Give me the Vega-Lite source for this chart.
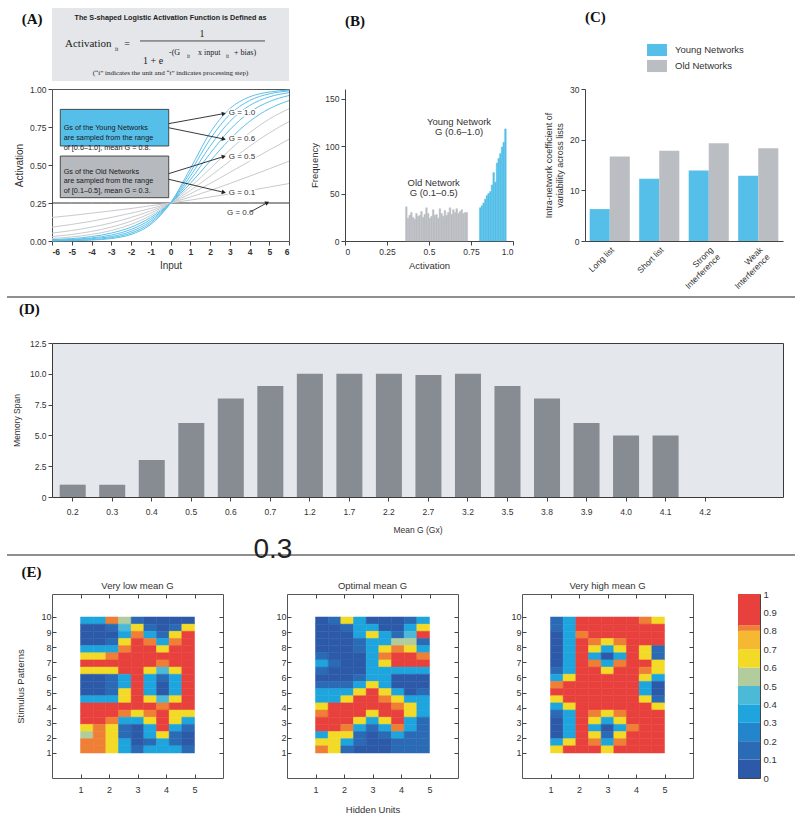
{
"$schema": "https://vega.github.io/schema/vega-lite/v6.json",
"background": "white",
"padding": {"left": 5, "top": 7, "right": 5, "bottom": 2},
"spacing": 0,
"config": {
  "font": "Liberation Sans",
  "view": {"stroke": null},
  "axis": {"labelFontSize": 8.5, "titleFontSize": 9.5, "titleFontWeight": "normal", "labelColor": "#333", "titleColor": "#333", "domainColor": "#444", "tickColor": "#444", "grid": false, "tickSize": 4, "labelPadding": 2, "labelOverlap": false},
  "title": {"font": "Liberation Serif", "fontSize": 15, "fontWeight": "bold", "color": "#111"},
  "legend": {"labelColor": "#333"}
},
"datasets": {
  "curves": [
    {"G":0,"x":[-6,-5,-4,-3,-2,-1,0,1,2,3,4,5,6],"a":[0.25,0.25,0.25,0.25,0.25,0.25,0.25,0.25,0.25,0.25,0.25,0.25,0.25]},
    {"G":0.1,"x":[-6,-5,-4,-3,-2,-1,0,1,2,3,4,5,6],"a":[0.155,0.168,0.183,0.198,0.214,0.232,0.25,0.269,0.289,0.31,0.332,0.355,0.378]},
    {"G":0.2,"x":[-6,-5,-4,-3,-2,-1,0,1,2,3,4,5,6],"a":[0.091,0.109,0.13,0.155,0.183,0.214,0.25,0.289,0.332,0.378,0.426,0.475,0.525]},
    {"G":0.3,"x":[-6,-5,-4,-3,-2,-1,0,1,2,3,4,5,6],"a":[0.052,0.069,0.091,0.119,0.155,0.198,0.25,0.31,0.378,0.451,0.525,0.599,0.669]},
    {"G":0.4,"x":[-6,-5,-4,-3,-2,-1,0,1,2,3,4,5,6],"a":[0.029,0.043,0.063,0.091,0.13,0.183,0.25,0.332,0.426,0.525,0.623,0.711,0.786]},
    {"G":0.5,"x":[-6,-5,-4,-3,-2,-1,0,1,2,3,4,5,6],"a":[0.016,0.027,0.043,0.069,0.109,0.168,0.25,0.355,0.475,0.599,0.711,0.802,0.87]},
    {"G":0.6,"x":[-6,-5,-4,-3,-2,-1,0,1,2,3,4,5,6],"a":[0.009,0.016,0.029,0.052,0.091,0.155,0.25,0.378,0.525,0.669,0.786,0.87,0.924]},
    {"G":0.7,"x":[-6,-5,-4,-3,-2,-1,0,1,2,3,4,5,6],"a":[0.005,0.01,0.02,0.039,0.076,0.142,0.25,0.402,0.575,0.731,0.846,0.917,0.957]},
    {"G":0.8,"x":[-6,-5,-4,-3,-2,-1,0,1,2,3,4,5,6],"a":[0.003,0.007,0.016,0.029,0.063,0.13,0.25,0.426,0.623,0.786,0.891,0.948,0.976]},
    {"G":0.9,"x":[-6,-5,-4,-3,-2,-1,0,1,2,3,4,5,6],"a":[0.002,0.004,0.009,0.022,0.052,0.119,0.25,0.451,0.669,0.832,0.924,0.968,0.987]},
    {"G":1.0,"x":[-6,-5,-4,-3,-2,-1,0,1,2,3,4,5,6],"a":[0.001,0.002,0.006,0.016,0.043,0.109,0.25,0.475,0.711,0.87,0.948,0.98,0.993]}
  ],
  "hist": [
    {"b0":0.36,"b1":0.37,"n":36},{"b0":0.37,"b1":0.38,"n":24},{"b0":0.38,"b1":0.39,"n":27},{"b0":0.39,"b1":0.40,"n":30},
    {"b0":0.40,"b1":0.41,"n":25},{"b0":0.41,"b1":0.42,"n":23},{"b0":0.42,"b1":0.43,"n":29},{"b0":0.43,"b1":0.44,"n":26},
    {"b0":0.44,"b1":0.45,"n":27},{"b0":0.45,"b1":0.46,"n":31},{"b0":0.46,"b1":0.47,"n":25},{"b0":0.47,"b1":0.48,"n":28},
    {"b0":0.48,"b1":0.49,"n":35},{"b0":0.49,"b1":0.50,"n":29},{"b0":0.50,"b1":0.51,"n":24},{"b0":0.51,"b1":0.52,"n":26},
    {"b0":0.52,"b1":0.53,"n":33},{"b0":0.53,"b1":0.54,"n":27},{"b0":0.54,"b1":0.55,"n":28},{"b0":0.55,"b1":0.56,"n":24},
    {"b0":0.56,"b1":0.57,"n":34},{"b0":0.57,"b1":0.58,"n":29},{"b0":0.58,"b1":0.59,"n":26},{"b0":0.59,"b1":0.60,"n":32},
    {"b0":0.60,"b1":0.61,"n":27},{"b0":0.61,"b1":0.62,"n":30},{"b0":0.62,"b1":0.63,"n":35},{"b0":0.63,"b1":0.64,"n":28},
    {"b0":0.64,"b1":0.65,"n":33},{"b0":0.65,"b1":0.66,"n":30},{"b0":0.66,"b1":0.67,"n":34},{"b0":0.67,"b1":0.68,"n":29},
    {"b0":0.68,"b1":0.69,"n":31},{"b0":0.69,"b1":0.70,"n":33},{"b0":0.70,"b1":0.71,"n":29},{"b0":0.71,"b1":0.72,"n":30},
    {"b0":0.72,"b1":0.73,"n":30},
    {"b0":0.80,"b1":0.81,"n":35},{"b0":0.81,"b1":0.82,"n":37},{"b0":0.82,"b1":0.83,"n":40},{"b0":0.83,"b1":0.84,"n":44},
    {"b0":0.84,"b1":0.85,"n":48},{"b0":0.85,"b1":0.86,"n":50},{"b0":0.86,"b1":0.87,"n":52},{"b0":0.87,"b1":0.88,"n":59},
    {"b0":0.88,"b1":0.89,"n":72},{"b0":0.89,"b1":0.90,"n":62},{"b0":0.90,"b1":0.91,"n":82},{"b0":0.91,"b1":0.92,"n":87},
    {"b0":0.92,"b1":0.93,"n":92},{"b0":0.93,"b1":0.94,"n":99},{"b0":0.94,"b1":0.95,"n":104},{"b0":0.95,"b1":0.96,"n":118}
  ],
  "cv": [
    {"cond":"Long list","net":"Young Networks","cv":6.3},{"cond":"Long list","net":"Old Networks","cv":16.7},
    {"cond":"Short list","net":"Young Networks","cv":12.3},{"cond":"Short list","net":"Old Networks","cv":17.8},
    {"cond":"Strong Interference","net":"Young Networks","cv":13.9},{"cond":"Strong Interference","net":"Old Networks","cv":19.3},
    {"cond":"Weak Interference","net":"Young Networks","cv":12.9},{"cond":"Weak Interference","net":"Old Networks","cv":18.3}
  ],
  "span": [
    {"g":"0.2","m":1},{"g":"0.3","m":1},{"g":"0.4","m":3},{"g":"0.5","m":6},{"g":"0.6","m":8},{"g":"0.7","m":9},
    {"g":"1.2","m":10},{"g":"1.7","m":10},{"g":"2.2","m":10},{"g":"2.7","m":9.9},{"g":"3.2","m":10},{"g":"3.5","m":9},
    {"g":"3.8","m":8},{"g":"3.9","m":6},{"g":"4.0","m":5},{"g":"4.1","m":5},{"g":"4.2","m":0}
  ],
  "grid": [
    {"g":"low","p":10,"u1":0.35,"u1h":0.35,"u2":0.815,"u2h":0.55,"u3":0.15,"u3h":0.05,"u4":0.05,"u4h":0.05,"u5":0.05},
    {"g":"low","p":9.5,"u1":0.05,"u1h":0.05,"u2":0.15,"u2h":0.45,"u3":0.65,"u3h":0.15,"u4":0.05,"u4h":0.15,"u5":0.65},
    {"g":"low","p":9,"u1":0.05,"u1h":0.05,"u2":0.05,"u2h":0.35,"u3":0.815,"u3h":0.35,"u4":0.15,"u4h":0.65,"u5":0.95},
    {"g":"low","p":8.5,"u1":0.05,"u1h":0.05,"u2":0.15,"u2h":0.65,"u3":0.95,"u3h":0.815,"u4":0.35,"u4h":0.815,"u5":0.95},
    {"g":"low","p":8,"u1":0.35,"u1h":0.35,"u2":0.35,"u2h":0.815,"u3":0.95,"u3h":0.95,"u4":0.65,"u4h":0.95,"u5":0.95},
    {"g":"low","p":7.5,"u1":0.65,"u1h":0.65,"u2":0.815,"u2h":0.95,"u3":0.95,"u3h":0.95,"u4":0.95,"u4h":0.95,"u5":0.95},
    {"g":"low","p":7,"u1":0.95,"u1h":0.95,"u2":0.95,"u2h":0.95,"u3":0.95,"u3h":0.95,"u4":0.815,"u4h":0.95,"u5":0.95},
    {"g":"low","p":6.5,"u1":0.65,"u1h":0.65,"u2":0.65,"u2h":0.95,"u3":0.95,"u3h":0.65,"u4":0.45,"u4h":0.65,"u5":0.95},
    {"g":"low","p":6,"u1":0.05,"u1h":0.05,"u2":0.15,"u2h":0.35,"u3":0.95,"u3h":0.35,"u4":0.15,"u4h":0.35,"u5":0.95},
    {"g":"low","p":5.5,"u1":0.05,"u1h":0.05,"u2":0.15,"u2h":0.35,"u3":0.95,"u3h":0.35,"u4":0.05,"u4h":0.35,"u5":0.95},
    {"g":"low","p":5,"u1":0.05,"u1h":0.05,"u2":0.15,"u2h":0.65,"u3":0.95,"u3h":0.35,"u4":0.05,"u4h":0.35,"u5":0.95},
    {"g":"low","p":4.5,"u1":0.35,"u1h":0.35,"u2":0.35,"u2h":0.65,"u3":0.95,"u3h":0.65,"u4":0.45,"u4h":0.65,"u5":0.95},
    {"g":"low","p":4,"u1":0.95,"u1h":0.95,"u2":0.95,"u2h":0.95,"u3":0.95,"u3h":0.95,"u4":0.815,"u4h":0.95,"u5":0.95},
    {"g":"low","p":3.5,"u1":0.95,"u1h":0.95,"u2":0.95,"u2h":0.815,"u3":0.65,"u3h":0.815,"u4":0.95,"u4h":0.65,"u5":0.65},
    {"g":"low","p":3,"u1":0.95,"u1h":0.95,"u2":0.815,"u2h":0.35,"u3":0.35,"u3h":0.65,"u4":0.95,"u4h":0.65,"u5":0.35},
    {"g":"low","p":2.5,"u1":0.65,"u1h":0.815,"u2":0.65,"u2h":0.15,"u3":0.05,"u3h":0.35,"u4":0.95,"u4h":0.35,"u5":0.15},
    {"g":"low","p":2,"u1":0.55,"u1h":0.815,"u2":0.65,"u2h":0.15,"u3":0.05,"u3h":0.35,"u4":0.65,"u4h":0.15,"u5":0.05},
    {"g":"low","p":1.5,"u1":0.815,"u1h":0.815,"u2":0.65,"u2h":0.35,"u3":0.05,"u3h":0.15,"u4":0.35,"u4h":0.15,"u5":0.05},
    {"g":"low","p":1,"u1":0.815,"u1h":0.815,"u2":0.65,"u2h":0.35,"u3":0.15,"u3h":0.35,"u4":0.35,"u4h":0.35,"u5":0.15},
    {"g":"opt","p":10,"u1":0.05,"u1h":0.15,"u2":0.65,"u2h":0.35,"u3":0.05,"u3h":0.05,"u4":0.05,"u4h":0.15,"u5":0.35},
    {"g":"opt","p":9.5,"u1":0.05,"u1h":0.05,"u2":0.15,"u2h":0.35,"u3":0.35,"u3h":0.05,"u4":0.05,"u4h":0.35,"u5":0.65},
    {"g":"opt","p":9,"u1":0.05,"u1h":0.05,"u2":0.05,"u2h":0.35,"u3":0.65,"u3h":0.35,"u4":0.15,"u4h":0.45,"u5":0.95},
    {"g":"opt","p":8.5,"u1":0.05,"u1h":0.05,"u2":0.05,"u2h":0.15,"u3":0.35,"u3h":0.35,"u4":0.55,"u4h":0.55,"u5":0.15},
    {"g":"opt","p":8,"u1":0.05,"u1h":0.05,"u2":0.05,"u2h":0.15,"u3":0.35,"u3h":0.65,"u4":0.815,"u4h":0.65,"u5":0.35},
    {"g":"opt","p":7.5,"u1":0.15,"u1h":0.05,"u2":0.05,"u2h":0.05,"u3":0.35,"u3h":0.815,"u4":0.95,"u4h":0.95,"u5":0.815},
    {"g":"opt","p":7,"u1":0.35,"u1h":0.15,"u2":0.05,"u2h":0.05,"u3":0.35,"u3h":0.65,"u4":0.95,"u4h":0.95,"u5":0.95},
    {"g":"opt","p":6.5,"u1":0.15,"u1h":0.05,"u2":0.05,"u2h":0.05,"u3":0.35,"u3h":0.35,"u4":0.35,"u4h":0.35,"u5":0.35},
    {"g":"opt","p":6,"u1":0.05,"u1h":0.05,"u2":0.05,"u2h":0.15,"u3":0.35,"u3h":0.35,"u4":0.05,"u4h":0.05,"u5":0.05},
    {"g":"opt","p":5.5,"u1":0.15,"u1h":0.15,"u2":0.15,"u2h":0.35,"u3":0.65,"u3h":0.35,"u4":0.05,"u4h":0.05,"u5":0.05},
    {"g":"opt","p":5,"u1":0.35,"u1h":0.35,"u2":0.35,"u2h":0.65,"u3":0.95,"u3h":0.65,"u4":0.35,"u4h":0.05,"u5":0.15},
    {"g":"opt","p":4.5,"u1":0.35,"u1h":0.35,"u2":0.65,"u2h":0.95,"u3":0.95,"u3h":0.815,"u4":0.65,"u4h":0.35,"u5":0.35},
    {"g":"opt","p":4,"u1":0.65,"u1h":0.95,"u2":0.95,"u2h":0.95,"u3":0.95,"u3h":0.95,"u4":0.815,"u4h":0.65,"u5":0.35},
    {"g":"opt","p":3.5,"u1":0.815,"u1h":0.95,"u2":0.95,"u2h":0.95,"u3":0.65,"u3h":0.95,"u4":0.95,"u4h":0.65,"u5":0.35},
    {"g":"opt","p":3,"u1":0.95,"u1h":0.95,"u2":0.95,"u2h":0.65,"u3":0.35,"u3h":0.65,"u4":0.95,"u4h":0.35,"u5":0.15},
    {"g":"opt","p":2.5,"u1":0.95,"u1h":0.95,"u2":0.815,"u2h":0.35,"u3":0.15,"u3h":0.35,"u4":0.815,"u4h":0.35,"u5":0.15},
    {"g":"opt","p":2,"u1":0.35,"u1h":0.65,"u2":0.65,"u2h":0.15,"u3":0.05,"u3h":0.15,"u4":0.35,"u4h":0.15,"u5":0.15},
    {"g":"opt","p":1.5,"u1":0.65,"u1h":0.65,"u2":0.35,"u2h":0.15,"u3":0.05,"u3h":0.05,"u4":0.15,"u4h":0.15,"u5":0.15},
    {"g":"opt","p":1,"u1":0.815,"u1h":0.65,"u2":0.15,"u2h":0.05,"u3":0.05,"u3h":0.05,"u4":0.15,"u4h":0.15,"u5":0.15},
    {"g":"high","p":10,"u1":0.15,"u1h":0.35,"u2":0.95,"u2h":0.95,"u3":0.95,"u3h":0.95,"u4":0.95,"u4h":0.815,"u5":0.65},
    {"g":"high","p":9.5,"u1":0.15,"u1h":0.35,"u2":0.95,"u2h":0.95,"u3":0.95,"u3h":0.95,"u4":0.95,"u4h":0.95,"u5":0.95},
    {"g":"high","p":9,"u1":0.05,"u1h":0.35,"u2":0.815,"u2h":0.95,"u3":0.95,"u3h":0.95,"u4":0.95,"u4h":0.95,"u5":0.95},
    {"g":"high","p":8.5,"u1":0.05,"u1h":0.35,"u2":0.95,"u2h":0.815,"u3":0.65,"u3h":0.815,"u4":0.95,"u4h":0.95,"u5":0.95},
    {"g":"high","p":8,"u1":0.05,"u1h":0.35,"u2":0.95,"u2h":0.65,"u3":0.35,"u3h":0.65,"u4":0.95,"u4h":0.65,"u5":0.15},
    {"g":"high","p":7.5,"u1":0.05,"u1h":0.35,"u2":0.95,"u2h":0.35,"u3":0.05,"u3h":0.35,"u4":0.95,"u4h":0.65,"u5":0.15},
    {"g":"high","p":7,"u1":0.05,"u1h":0.35,"u2":0.95,"u2h":0.815,"u3":0.35,"u3h":0.815,"u4":0.95,"u4h":0.95,"u5":0.65},
    {"g":"high","p":6.5,"u1":0.15,"u1h":0.35,"u2":0.95,"u2h":0.95,"u3":0.65,"u3h":0.95,"u4":0.95,"u4h":0.815,"u5":0.65},
    {"g":"high","p":6,"u1":0.35,"u1h":0.65,"u2":0.95,"u2h":0.95,"u3":0.95,"u3h":0.95,"u4":0.95,"u4h":0.65,"u5":0.35},
    {"g":"high","p":5.5,"u1":0.815,"u1h":0.95,"u2":0.95,"u2h":0.95,"u3":0.95,"u3h":0.95,"u4":0.95,"u4h":0.35,"u5":0.05},
    {"g":"high","p":5,"u1":0.95,"u1h":0.95,"u2":0.95,"u2h":0.95,"u3":0.95,"u3h":0.95,"u4":0.95,"u4h":0.35,"u5":0.05},
    {"g":"high","p":4.5,"u1":0.65,"u1h":0.95,"u2":0.95,"u2h":0.95,"u3":0.95,"u3h":0.95,"u4":0.95,"u4h":0.65,"u5":0.15},
    {"g":"high","p":4,"u1":0.35,"u1h":0.65,"u2":0.95,"u2h":0.95,"u3":0.95,"u3h":0.95,"u4":0.95,"u4h":0.95,"u5":0.65},
    {"g":"high","p":3.5,"u1":0.15,"u1h":0.35,"u2":0.95,"u2h":0.815,"u3":0.65,"u3h":0.815,"u4":0.95,"u4h":0.95,"u5":0.95},
    {"g":"high","p":3,"u1":0.05,"u1h":0.35,"u2":0.95,"u2h":0.65,"u3":0.35,"u3h":0.65,"u4":0.95,"u4h":0.95,"u5":0.95},
    {"g":"high","p":2.5,"u1":0.05,"u1h":0.35,"u2":0.95,"u2h":0.35,"u3":0.05,"u3h":0.35,"u4":0.815,"u4h":0.95,"u5":0.95},
    {"g":"high","p":2,"u1":0.05,"u1h":0.35,"u2":0.95,"u2h":0.65,"u3":0.15,"u3h":0.65,"u4":0.95,"u4h":0.95,"u5":0.95},
    {"g":"high","p":1.5,"u1":0.35,"u1h":0.65,"u2":0.95,"u2h":0.815,"u3":0.35,"u3h":0.815,"u4":0.95,"u4h":0.95,"u5":0.95},
    {"g":"high","p":1,"u1":0.65,"u1h":0.95,"u2":0.95,"u2h":0.95,"u3":0.65,"u3h":0.95,"u4":0.95,"u4h":0.95,"u5":0.95}
  ],
  "cbar": [
    {"lo":0,"hi":0.1,"mid":0.05},{"lo":0.1,"hi":0.2,"mid":0.15},{"lo":0.2,"hi":0.3,"mid":0.25},{"lo":0.3,"hi":0.4,"mid":0.35},
    {"lo":0.4,"hi":0.5,"mid":0.45},{"lo":0.5,"hi":0.6,"mid":0.55},{"lo":0.6,"hi":0.7,"mid":0.65},{"lo":0.7,"hi":0.8,"mid":0.75},
    {"lo":0.8,"hi":0.83,"mid":0.815},{"lo":0.83,"hi":1,"mid":0.915}
  ]
},
"vconcat": [
  {
    "hconcat": [
      {
        "width": 237, "height": 152,
        "view": {"stroke": "#555"},
        "data": {"values": [{}]},
        "resolve": {"axis": {"x": "independent", "y": "independent"}},
        "layer": [
          {"data": {"name": "curves"}, "transform": [{"flatten": ["x", "a"]}],
           "mark": {"type": "line", "strokeWidth": 1, "interpolate": "monotone"},
           "encoding": {
             "x": {"field": "x", "type": "quantitative", "scale": {"domain": [-6, 6]}, "axis": {"orient": "bottom", "values": [-6,-5,-4,-3,-2,-1,0,1,2,3,4,5,6], "labelExpr": "replace(toString(datum.value), '−', '-')", "labelOverlap": false, "labelFontWeight": "bold", "title": "Input", "titleFontSize": 10, "titlePadding": 5, "domain": false}},
             "y": {"field": "a", "type": "quantitative", "scale": {"domain": [0, 1]}, "axis": {"orient": "left", "values": [0, 0.25, 0.5, 0.75, 1], "labelExpr": "format(datum.value, '.2f')", "labelOverlap": false, "title": "Activation", "titleFontSize": 10, "titlePadding": 5, "domain": false}},
             "detail": {"field": "G", "type": "nominal"},
             "color": {"condition": [{"test": "datum.G == 0", "value": "#333333"}, {"test": "datum.G >= 0.6", "value": "#5bc0ea"}], "value": "#c8cacd"}
           }},
          {"mark": {"type": "rect", "fill": "#e4e6e9"}, "encoding": {"x": {"datum": -6, "axis": null}, "x2": {"datum": 6}, "y": {"datum": 1.533, "axis": null}, "y2": {"datum": 1.053}}},
          {"mark": {"type": "text", "text": "(A)", "font": "Liberation Serif", "fontSize": 15, "fontWeight": "bold", "color": "#111"}, "encoding": {"x": {"datum": -7.01, "axis": null}, "y": {"datum": 1.461, "axis": null}}},
          {"mark": {"type": "text", "text": "The S-shaped Logistic Activation Function is Defined as", "fontSize": 7.2, "fontWeight": "bold", "color": "#222"}, "encoding": {"x": {"datum": 0, "axis": null}, "y": {"datum": 1.467, "axis": null}}},
          {"mark": {"type": "text", "text": "Activation", "font": "Liberation Serif", "fontSize": 11, "align": "left", "color": "#222"}, "encoding": {"x": {"datum": -5.34, "axis": null}, "y": {"datum": 1.296, "axis": null}}},
          {"mark": {"type": "text", "text": "it", "font": "Liberation Serif", "fontSize": 6, "align": "left", "color": "#222"}, "encoding": {"x": {"datum": -2.81, "axis": null}, "y": {"datum": 1.263, "axis": null}}},
          {"mark": {"type": "text", "text": "=", "font": "Liberation Serif", "fontSize": 10, "color": "#222"}, "encoding": {"x": {"datum": -2.2, "axis": null}, "y": {"datum": 1.296, "axis": null}}},
          {"mark": {"type": "text", "text": "1", "font": "Liberation Serif", "fontSize": 10, "color": "#222"}, "encoding": {"x": {"datum": 1.59, "axis": null}, "y": {"datum": 1.362, "axis": null}}},
          {"mark": {"type": "rule", "color": "#222", "strokeWidth": 0.8}, "encoding": {"x": {"datum": -1.544, "axis": null}, "x2": {"datum": 4.785}, "y": {"datum": 1.316, "axis": null}}},
          {"mark": {"type": "text", "text": "1 + e", "font": "Liberation Serif", "fontSize": 10, "align": "left", "color": "#222"}, "encoding": {"x": {"datum": -1.392, "axis": null}, "y": {"datum": 1.182, "axis": null}}},
          {"mark": {"type": "text", "text": "-(G", "font": "Liberation Serif", "fontSize": 8, "align": "left", "color": "#222"}, "encoding": {"x": {"datum": -0.076, "axis": null}, "y": {"datum": 1.237, "axis": null}}},
          {"mark": {"type": "text", "text": "it", "font": "Liberation Serif", "fontSize": 5.5, "align": "left", "color": "#222"}, "encoding": {"x": {"datum": 0.835, "axis": null}, "y": {"datum": 1.215, "axis": null}}},
          {"mark": {"type": "text", "text": "x input", "font": "Liberation Serif", "fontSize": 8, "align": "left", "color": "#222"}, "encoding": {"x": {"datum": 1.39, "axis": null}, "y": {"datum": 1.237, "axis": null}}},
          {"mark": {"type": "text", "text": "it", "font": "Liberation Serif", "fontSize": 5.5, "align": "left", "color": "#222"}, "encoding": {"x": {"datum": 2.81, "axis": null}, "y": {"datum": 1.215, "axis": null}}},
          {"mark": {"type": "text", "text": "+ bias)", "font": "Liberation Serif", "fontSize": 8, "align": "left", "color": "#222"}, "encoding": {"x": {"datum": 3.215, "axis": null}, "y": {"datum": 1.237, "axis": null}}},
          {"mark": {"type": "text", "text": "(“i” indicates the unit and “t” indicates processing step)", "font": "Liberation Serif", "fontSize": 7, "color": "#222"}, "encoding": {"x": {"datum": 0, "axis": null}, "y": {"datum": 1.108, "axis": null}}},
          {"mark": {"type": "rect", "fill": "#55bfe9", "stroke": "#2a2a2a", "strokeWidth": 0.8}, "encoding": {"x": {"datum": -5.58, "axis": null}, "x2": {"datum": -0.09}, "y": {"datum": 0.866, "axis": null}, "y2": {"datum": 0.625}}},
          {"mark": {"type": "rect", "fill": "#b6b9be", "stroke": "#2a2a2a", "strokeWidth": 0.8}, "encoding": {"x": {"datum": -5.58, "axis": null}, "x2": {"datum": -0.09}, "y": {"datum": 0.559, "axis": null}, "y2": {"datum": 0.285}}},
          {"mark": {"type": "text", "text": ["Gs of the Young Networks", "are sampled from the range", "of [0.6–1.0], mean G = 0.8."], "fontSize": 7.3, "lineHeight": 10, "align": "left", "color": "#1a1a1a"}, "encoding": {"x": {"datum": -5.41, "axis": null}, "y": {"datum": 0.745, "axis": null}}},
          {"mark": {"type": "text", "text": ["Gs of the Old Networks", "are sampled from the range", "of [0.1–0.5], mean G = 0.3."], "fontSize": 7.3, "lineHeight": 9.5, "align": "left", "color": "#1a1a1a"}, "encoding": {"x": {"datum": -5.41, "axis": null}, "y": {"datum": 0.456, "axis": null}}},
          {"mark": {"type": "rule", "color": "#222", "strokeWidth": 0.9}, "encoding": {"x": {"datum": -0.09, "axis": null}, "y": {"datum": 0.772, "axis": null}, "x2": {"datum": 2.7}, "y2": {"datum": 0.838}}},
          {"mark": {"type": "rule", "color": "#222", "strokeWidth": 0.9}, "encoding": {"x": {"datum": -0.09, "axis": null}, "y": {"datum": 0.745, "axis": null}, "x2": {"datum": 2.7}, "y2": {"datum": 0.671}}},
          {"mark": {"type": "rule", "color": "#222", "strokeWidth": 0.9}, "encoding": {"x": {"datum": -0.09, "axis": null}, "y": {"datum": 0.443, "axis": null}, "x2": {"datum": 2.7}, "y2": {"datum": 0.556}}},
          {"mark": {"type": "rule", "color": "#222", "strokeWidth": 0.9}, "encoding": {"x": {"datum": -0.09, "axis": null}, "y": {"datum": 0.406, "axis": null}, "x2": {"datum": 2.7}, "y2": {"datum": 0.32}}},
          {"mark": {"type": "rule", "color": "#222", "strokeWidth": 0.9}, "encoding": {"x": {"datum": 4.04, "axis": null}, "y": {"datum": 0.191, "axis": null}, "x2": {"datum": 4.9}, "y2": {"datum": 0.252}}},
          {"mark": {"type": "point", "shape": "triangle-right", "filled": true, "color": "#222", "opacity": 1, "size": 22, "angle": -10.4}, "encoding": {"x": {"datum": 2.7, "axis": null}, "y": {"datum": 0.838, "axis": null}}},
          {"mark": {"type": "point", "shape": "triangle-right", "filled": true, "color": "#222", "opacity": 1, "size": 22, "angle": 11.6}, "encoding": {"x": {"datum": 2.7, "axis": null}, "y": {"datum": 0.671, "axis": null}}},
          {"mark": {"type": "point", "shape": "triangle-right", "filled": true, "color": "#222", "opacity": 1, "size": 22, "angle": -17.4}, "encoding": {"x": {"datum": 2.7, "axis": null}, "y": {"datum": 0.556, "axis": null}}},
          {"mark": {"type": "point", "shape": "triangle-right", "filled": true, "color": "#222", "opacity": 1, "size": 22, "angle": 13.3}, "encoding": {"x": {"datum": 2.7, "axis": null}, "y": {"datum": 0.32, "axis": null}}},
          {"mark": {"type": "point", "shape": "triangle-right", "filled": true, "color": "#222", "opacity": 1, "size": 22, "angle": -28.5}, "encoding": {"x": {"datum": 4.9, "axis": null}, "y": {"datum": 0.252, "axis": null}}},
          {"mark": {"type": "text", "text": "G = 1.0", "fontSize": 8, "align": "left", "fill": "white", "stroke": "white", "strokeWidth": 3}, "encoding": {"x": {"datum": 2.95, "axis": null}, "y": {"datum": 0.844, "axis": null}}},
          {"mark": {"type": "text", "text": "G = 1.0", "fontSize": 8, "align": "left", "color": "#333"}, "encoding": {"x": {"datum": 2.95, "axis": null}, "y": {"datum": 0.844, "axis": null}}},
          {"mark": {"type": "text", "text": "G = 0.6", "fontSize": 8, "align": "left", "fill": "white", "stroke": "white", "strokeWidth": 3}, "encoding": {"x": {"datum": 2.95, "axis": null}, "y": {"datum": 0.669, "axis": null}}},
          {"mark": {"type": "text", "text": "G = 0.6", "fontSize": 8, "align": "left", "color": "#333"}, "encoding": {"x": {"datum": 2.95, "axis": null}, "y": {"datum": 0.669, "axis": null}}},
          {"mark": {"type": "text", "text": "G = 0.5", "fontSize": 8, "align": "left", "fill": "white", "stroke": "white", "strokeWidth": 3}, "encoding": {"x": {"datum": 2.95, "axis": null}, "y": {"datum": 0.555, "axis": null}}},
          {"mark": {"type": "text", "text": "G = 0.5", "fontSize": 8, "align": "left", "color": "#333"}, "encoding": {"x": {"datum": 2.95, "axis": null}, "y": {"datum": 0.555, "axis": null}}},
          {"mark": {"type": "text", "text": "G = 0.1", "fontSize": 8, "align": "left", "fill": "white", "stroke": "white", "strokeWidth": 3}, "encoding": {"x": {"datum": 2.95, "axis": null}, "y": {"datum": 0.318, "axis": null}}},
          {"mark": {"type": "text", "text": "G = 0.1", "fontSize": 8, "align": "left", "color": "#333"}, "encoding": {"x": {"datum": 2.95, "axis": null}, "y": {"datum": 0.318, "axis": null}}},
          {"mark": {"type": "text", "text": "G = 0.0", "fontSize": 8, "align": "left", "color": "#333"}, "encoding": {"x": {"datum": 2.86, "axis": null}, "y": {"datum": 0.186, "axis": null}}}
        ]
      },
      {"width": 1, "height": 1, "data": {"values": []}, "mark": "point"},
      {
        "width": 168, "height": 152,
        "title": {"text": "(B)", "anchor": "start", "frame": "group", "offset": 60},
        "data": {"values": [{}]},
        "layer": [
          {"data": {"name": "hist"}, "mark": {"type": "rect", "strokeWidth": 0.4},
           "encoding": {
             "x": {"field": "b0", "type": "quantitative", "scale": {"domain": [0, 1]}, "axis": {"values": [0, 0.25, 0.5, 0.75, 1], "labelExpr": "datum.value == 0 ? '0' : datum.value == 0.5 ? '0.5' : datum.value == 1 ? '1.0' : format(datum.value, '.2f')", "title": "Activation", "titlePadding": 5}},
             "x2": {"field": "b1"},
             "y": {"field": "n", "type": "quantitative", "scale": {"domain": [0, 150]}, "axis": {"values": [0, 50, 100, 150], "title": "Frequency", "titlePadding": 5}},
             "color": {"condition": {"test": "datum.b0 >= 0.78", "value": "#55bfe9"}, "value": "#babdc2"},
             "stroke": {"condition": {"test": "datum.b0 >= 0.78", "value": "#55bfe9"}, "value": "#babdc2"}
           }},
          {"mark": {"type": "text", "text": ["Young Network", "G (0.6–1.0)"], "fontSize": 9.5, "lineHeight": 10, "color": "#333"}, "encoding": {"x": {"datum": 0.679}, "y": {"datum": 125}}},
          {"mark": {"type": "text", "text": ["Old Network", "G (0.1–0.5)"], "fontSize": 9.5, "lineHeight": 10, "color": "#333"}, "encoding": {"x": {"datum": 0.528}, "y": {"datum": 61}}}
        ]
      },
      {"width": 17, "height": 1, "data": {"values": []}, "mark": "point"},
      {
        "width": 198, "height": 152,
        "title": {"text": "(C)", "anchor": "start", "frame": "group", "offset": 60},
        "data": {"name": "cv"},
        "mark": {"type": "bar"},
        "encoding": {
          "x": {"field": "cond", "type": "nominal", "sort": ["Long list", "Short list", "Strong Interference", "Weak Interference"], "scale": {"paddingInner": 0.19, "paddingOuter": 0.095},
                "axis": {"title": null, "labelAngle": -45, "labelAlign": "right", "ticks": false, "labelPadding": 4, "labelLineHeight": 10, "labelExpr": "datum.label == 'Strong Interference' ? ['Strong', 'Interference'] : datum.label == 'Weak Interference' ? ['Weak', 'Interference'] : datum.label"}},
          "xOffset": {"field": "net", "type": "nominal", "sort": ["Young Networks", "Old Networks"]},
          "y": {"field": "cv", "type": "quantitative", "scale": {"domain": [0, 30]}, "axis": {"values": [0, 10, 20, 30], "title": ["Intra-network coefficient of", "variability across lists"], "titleFontSize": 9, "titlePadding": 5}},
          "color": {"field": "net", "type": "nominal", "scale": {"domain": ["Young Networks", "Old Networks"], "range": ["#55bfe9", "#babdc2"]},
                    "legend": {"orient": "none", "legendX": 596, "legendY": -48, "title": null, "symbolType": "M-1.15,-0.7H1.15V0.7H-1.15Z", "symbolSize": 300, "symbolStrokeWidth": 0, "labelFontSize": 9.5, "labelOffset": 9, "rowPadding": 0}}
        }
      }
    ],
    "spacing": 27.5,
    "bounds": "flush"
  },
  {
    "width": 743, "height": 10,
    "data": {"values": [{}]},
    "mark": {"type": "rule", "color": "#8f8f8f", "strokeWidth": 2},
    "encoding": {
      "x": {"datum": -0.0606, "type": "quantitative", "scale": {"domain": [0, 1]}, "axis": null},
      "x2": {"datum": 1},
      "y": {"datum": 4, "type": "quantitative", "scale": {"domain": [0, 10]}, "axis": null}
    }
  },
  {
    "width": 731, "height": 154,
    "title": {"text": "(D)", "anchor": "start", "frame": "group", "dx": -33, "offset": 22},
    "view": {"fill": "#e4e7eb", "stroke": "#3a3a3a"},
    "data": {"name": "span"},
    "mark": {"type": "bar", "color": "#878c92"},
    "encoding": {
      "x": {"field": "g", "type": "ordinal", "scale": {"domain": ["0.2","0.3","0.4","0.5","0.6","0.7","1.2","1.7","2.2","2.7","3.2","3.5","3.8","3.9","4.0","4.1","4.2"], "paddingInner": 0.342, "paddingOuter": 0.918, "align": 0.106},
            "axis": {"title": "Mean G (Gx)", "labelAngle": 0, "titleFontSize": 8.5, "domain": false, "labelPadding": 6, "titlePadding": 10}},
      "y": {"field": "m", "type": "quantitative", "scale": {"domain": [0, 12.5]},
            "axis": {"values": [0, 2.5, 5, 7.5, 10, 12.5], "labelExpr": "datum.value == 0 ? '0' : format(datum.value, '.1f')", "title": "Memory Span", "titleFontSize": 8.5, "titlePadding": 8, "domain": false}}
    }
  },
  {
    "width": 743, "height": 44,
    "data": {"values": [{}]},
    "layer": [
      {"mark": {"type": "rule", "color": "#8f8f8f", "strokeWidth": 2}, "encoding": {"x": {"datum": -0.0606, "type": "quantitative", "scale": {"domain": [0, 1]}, "axis": null}, "x2": {"datum": 1}, "y": {"datum": 0.568, "type": "quantitative", "scale": {"domain": [0, 1]}, "axis": null}}},
      {"mark": {"type": "text", "text": "0.3", "fontSize": 28, "color": "#222"}, "encoding": {"x": {"datum": 0.2974, "type": "quantitative", "axis": null}, "y": {"datum": 0.682, "type": "quantitative", "axis": null}}},
      {"mark": {"type": "text", "text": "(E)", "font": "Liberation Serif", "fontSize": 15, "fontWeight": "bold", "color": "#111"}, "encoding": {"x": {"datum": -0.0276, "type": "quantitative", "axis": null}, "y": {"datum": 0.182, "type": "quantitative", "axis": null}}}
    ]
  },
  {
    "hconcat": [
      {
        "width": 171, "height": 184,
        "title": {"text": "Very low mean G", "font": "Liberation Sans", "fontSize": 9.5, "fontWeight": "normal", "color": "#333", "offset": 3, "frame": "group"},
        "view": {"stroke": "#555"},
        "data": {"values": [{}]},
        "layer": [
          {"data": {"name": "grid"}, "transform": [{"filter": "datum.g == 'low'"}, {"fold": ["u1","u1h","u2","u2h","u3","u3h","u4","u4h","u5"], "as": ["u", "v"]}],
           "mark": {"type": "rect", "strokeWidth": 0.5},
           "encoding": {
             "x": {"field": "u", "type": "ordinal", "scale": {"domain": ["u0","u0h","u1","u1h","u2","u2h","u3","u3h","u4","u4h","u5","u5h","u6"], "paddingInner": 0, "paddingOuter": 0.25}, "axis": null},
             "y": {"field": "p", "type": "ordinal", "scale": {"domain": [11.5,11,10.5,10,9.5,9,8.5,8,7.5,7,6.5,6,5.5,5,4.5,4,3.5,3,2.5,2,1.5,1,0.5,0,-0.5], "paddingInner": 0, "paddingOuter": 0.35, "align": 0.3}, "axis": null},
             "color": {"field": "v", "type": "quantitative", "scale": {"type": "threshold", "domain": [0.1,0.2,0.3,0.4,0.5,0.6,0.7,0.8,0.83], "range": ["#2d5aa8","#2b6ab5","#2386cc","#1ea5de","#4cbad6","#b2cc9e","#f2da26","#f5b830","#ef7f35","#e8413d"]}, "legend": null},
             "stroke": {"field": "v", "type": "quantitative", "scale": {"type": "threshold", "domain": [0.1,0.2,0.3,0.4,0.5,0.6,0.7,0.8,0.83], "range": ["#2d5aa8","#2b6ab5","#2386cc","#1ea5de","#4cbad6","#b2cc9e","#f2da26","#f5b830","#ef7f35","#e8413d"]}, "legend": null}
           }},
          {"mark": {"type": "text", "text": ""},
           "encoding": {
             "x": {"datum": 1, "type": "quantitative", "scale": {"domain": [0, 6]}, "axis": {"orient": "bottom", "values": [1,2,3,4,5], "tickSize": -4, "labelPadding": 11, "domain": false, "title": null, "labelFontSize": 9}},
             "y": {"datum": 1, "type": "quantitative", "scale": {"domain": [-0.655, 11.52]}, "axis": {"orient": "left", "values": [1,2,3,4,5,6,7,8,9,10], "tickSize": -4, "labelPadding": 5, "domain": false, "title": "Stimulus Patterns", "titlePadding": 15, "labelFontSize": 9}}
           }},
          {"mark": {"type": "text", "text": ""},
           "encoding": {
             "x": {"datum": 1, "type": "quantitative", "scale": {"domain": [0, 6]}, "axis": {"orient": "top", "values": [1,2,3,4,5], "tickSize": -4, "labels": false, "domain": false, "title": null}},
             "y": {"datum": 1, "type": "quantitative", "scale": {"domain": [-0.655, 11.52]}, "axis": {"orient": "right", "values": [1,2,3,4,5,6,7,8,9,10], "tickSize": -4, "labels": false, "domain": false, "title": null}}
           }}
        ],
        "resolve": {"scale": {"x": "independent", "y": "independent"}, "axis": {"x": "independent", "y": "independent"}}
      },
      {"width": 24, "height": 1, "data": {"values": []}, "mark": "point"},
      {
        "width": 171, "height": 184,
        "title": {"text": "Optimal mean G", "font": "Liberation Sans", "fontSize": 9.5, "fontWeight": "normal", "color": "#333", "offset": 3, "frame": "group"},
        "view": {"stroke": "#555"},
        "data": {"values": [{}]},
        "layer": [
          {"data": {"name": "grid"}, "transform": [{"filter": "datum.g == 'opt'"}, {"fold": ["u1","u1h","u2","u2h","u3","u3h","u4","u4h","u5"], "as": ["u", "v"]}],
           "mark": {"type": "rect", "strokeWidth": 0.5},
           "encoding": {
             "x": {"field": "u", "type": "ordinal", "scale": {"domain": ["u0","u0h","u1","u1h","u2","u2h","u3","u3h","u4","u4h","u5","u5h","u6"], "paddingInner": 0, "paddingOuter": 0.25}, "axis": null},
             "y": {"field": "p", "type": "ordinal", "scale": {"domain": [11.5,11,10.5,10,9.5,9,8.5,8,7.5,7,6.5,6,5.5,5,4.5,4,3.5,3,2.5,2,1.5,1,0.5,0,-0.5], "paddingInner": 0, "paddingOuter": 0.35, "align": 0.3}, "axis": null},
             "color": {"field": "v", "type": "quantitative", "scale": {"type": "threshold", "domain": [0.1,0.2,0.3,0.4,0.5,0.6,0.7,0.8,0.83], "range": ["#2d5aa8","#2b6ab5","#2386cc","#1ea5de","#4cbad6","#b2cc9e","#f2da26","#f5b830","#ef7f35","#e8413d"]}, "legend": null},
             "stroke": {"field": "v", "type": "quantitative", "scale": {"type": "threshold", "domain": [0.1,0.2,0.3,0.4,0.5,0.6,0.7,0.8,0.83], "range": ["#2d5aa8","#2b6ab5","#2386cc","#1ea5de","#4cbad6","#b2cc9e","#f2da26","#f5b830","#ef7f35","#e8413d"]}, "legend": null}
           }},
          {"mark": {"type": "text", "text": ""},
           "encoding": {
             "x": {"datum": 1, "type": "quantitative", "scale": {"domain": [0, 6]}, "axis": {"orient": "bottom", "values": [1,2,3,4,5], "tickSize": -4, "labelPadding": 11, "domain": false, "title": "Hidden Units", "titlePadding": 10, "labelFontSize": 9}},
             "y": {"datum": 1, "type": "quantitative", "scale": {"domain": [-0.655, 11.52]}, "axis": {"orient": "left", "values": [1,2,3,4,5,6,7,8,9,10], "tickSize": -4, "labelPadding": 5, "domain": false, "title": null, "labelFontSize": 9}}
           }},
          {"mark": {"type": "text", "text": ""},
           "encoding": {
             "x": {"datum": 1, "type": "quantitative", "scale": {"domain": [0, 6]}, "axis": {"orient": "top", "values": [1,2,3,4,5], "tickSize": -4, "labels": false, "domain": false, "title": null}},
             "y": {"datum": 1, "type": "quantitative", "scale": {"domain": [-0.655, 11.52]}, "axis": {"orient": "right", "values": [1,2,3,4,5,6,7,8,9,10], "tickSize": -4, "labels": false, "domain": false, "title": null}}
           }}
        ],
        "resolve": {"scale": {"x": "independent", "y": "independent"}, "axis": {"x": "independent", "y": "independent"}}
      },
      {"width": 24, "height": 1, "data": {"values": []}, "mark": "point"},
      {
        "width": 171, "height": 184,
        "title": {"text": "Very high mean G", "font": "Liberation Sans", "fontSize": 9.5, "fontWeight": "normal", "color": "#333", "offset": 3, "frame": "group"},
        "view": {"stroke": "#555"},
        "data": {"values": [{}]},
        "layer": [
          {"data": {"name": "grid"}, "transform": [{"filter": "datum.g == 'high'"}, {"fold": ["u1","u1h","u2","u2h","u3","u3h","u4","u4h","u5"], "as": ["u", "v"]}],
           "mark": {"type": "rect", "strokeWidth": 0.5},
           "encoding": {
             "x": {"field": "u", "type": "ordinal", "scale": {"domain": ["u0","u0h","u1","u1h","u2","u2h","u3","u3h","u4","u4h","u5","u5h","u6"], "paddingInner": 0, "paddingOuter": 0.25}, "axis": null},
             "y": {"field": "p", "type": "ordinal", "scale": {"domain": [11.5,11,10.5,10,9.5,9,8.5,8,7.5,7,6.5,6,5.5,5,4.5,4,3.5,3,2.5,2,1.5,1,0.5,0,-0.5], "paddingInner": 0, "paddingOuter": 0.35, "align": 0.3}, "axis": null},
             "color": {"field": "v", "type": "quantitative", "scale": {"type": "threshold", "domain": [0.1,0.2,0.3,0.4,0.5,0.6,0.7,0.8,0.83], "range": ["#2d5aa8","#2b6ab5","#2386cc","#1ea5de","#4cbad6","#b2cc9e","#f2da26","#f5b830","#ef7f35","#e8413d"]}, "legend": null},
             "stroke": {"field": "v", "type": "quantitative", "scale": {"type": "threshold", "domain": [0.1,0.2,0.3,0.4,0.5,0.6,0.7,0.8,0.83], "range": ["#2d5aa8","#2b6ab5","#2386cc","#1ea5de","#4cbad6","#b2cc9e","#f2da26","#f5b830","#ef7f35","#e8413d"]}, "legend": null}
           }},
          {"mark": {"type": "text", "text": ""},
           "encoding": {
             "x": {"datum": 1, "type": "quantitative", "scale": {"domain": [0, 6]}, "axis": {"orient": "bottom", "values": [1,2,3,4,5], "tickSize": -4, "labelPadding": 11, "domain": false, "title": null, "labelFontSize": 9}},
             "y": {"datum": 1, "type": "quantitative", "scale": {"domain": [-0.655, 11.52]}, "axis": {"orient": "left", "values": [1,2,3,4,5,6,7,8,9,10], "tickSize": -4, "labelPadding": 5, "domain": false, "title": null, "labelFontSize": 9}}
           }},
          {"mark": {"type": "text", "text": ""},
           "encoding": {
             "x": {"datum": 1, "type": "quantitative", "scale": {"domain": [0, 6]}, "axis": {"orient": "top", "values": [1,2,3,4,5], "tickSize": -4, "labels": false, "domain": false, "title": null}},
             "y": {"datum": 1, "type": "quantitative", "scale": {"domain": [-0.655, 11.52]}, "axis": {"orient": "right", "values": [1,2,3,4,5,6,7,8,9,10], "tickSize": -4, "labels": false, "domain": false, "title": null}}
           }}
        ],
        "resolve": {"scale": {"x": "independent", "y": "independent"}, "axis": {"x": "independent", "y": "independent"}}
      },
      {"width": 5, "height": 1, "data": {"values": []}, "mark": "point"},
      {
        "width": 22, "height": 184,
        "view": {"stroke": "#444"},
        "data": {"name": "cbar"},
        "mark": {"type": "rect"},
        "encoding": {
          "y": {"field": "lo", "type": "quantitative", "scale": {"domain": [0, 1]}, "axis": {"orient": "right", "values": [0,0.1,0.2,0.3,0.4,0.5,0.6,0.7,0.8,0.9,1], "labelExpr": "datum.value == 0 ? '0' : datum.value == 1 ? '1' : format(datum.value, '.1f')", "ticks": false, "domain": false, "title": null, "labelFontSize": 9.5, "labelPadding": 3}},
          "y2": {"field": "hi"},
          "color": {"field": "mid", "type": "quantitative", "scale": {"type": "threshold", "domain": [0.1,0.2,0.3,0.4,0.5,0.6,0.7,0.8,0.83], "range": ["#2d5aa8","#2b6ab5","#2386cc","#1ea5de","#4cbad6","#b2cc9e","#f2da26","#f5b830","#ef7f35","#e8413d"]}, "legend": null}
        }
      }
    ],
    "spacing": 20,
    "bounds": "flush"
  }
]
}
